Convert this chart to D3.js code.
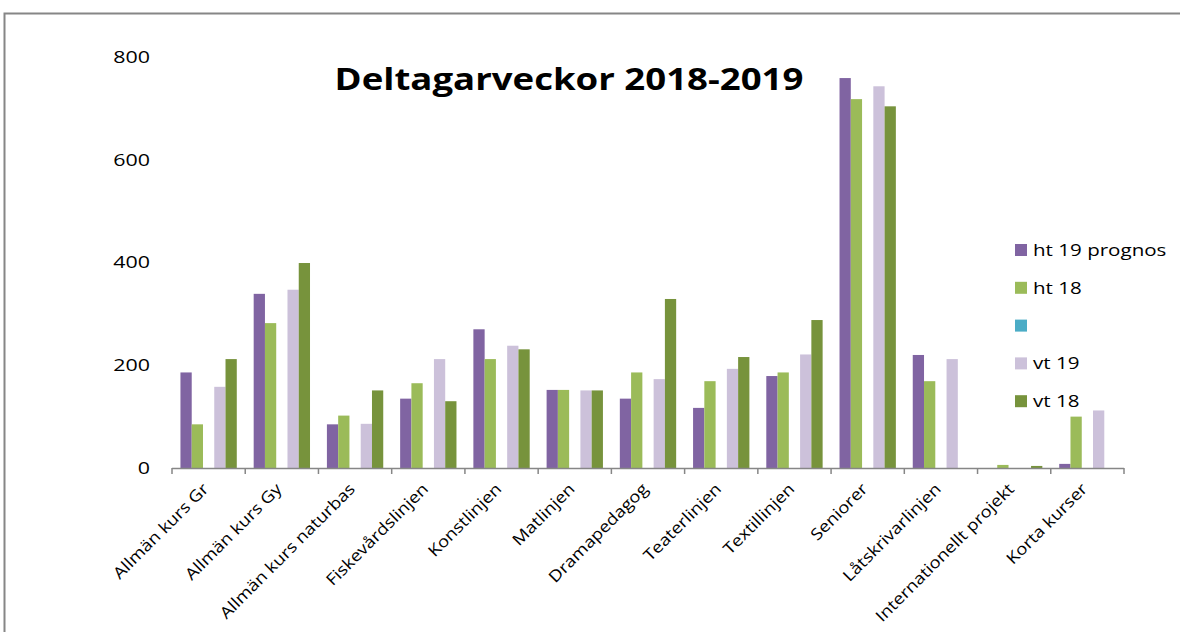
<!DOCTYPE html>
<html>
<head>
<meta charset="utf-8">
<script src="https://cdn.jsdelivr.net/npm/d3@7"></script>
<style>
  body { margin: 0; background: #fff; }
  svg { display: block; }
  text { font-family: "Open Sans", "Noto Sans", sans-serif; }
</style>
</head>
<body>
<svg id="chart" width="1180" height="632"></svg>
<script>
// kategorier
const categories = ["Allmän kurs Gr", "Allmän kurs Gy", "Allmän kurs naturbas", "Fiskevårdslinjen",
  "Konstlinjen", "Matlinjen", "Dramapedagog", "Teaterlinjen", "Textillinjen", "Seniorer",
  "Låtskrivarlinjen", "Internationellt projekt", "Korta kurser"];
const seriesNames = ["ht 19 prognos", "ht 18", "", "vt 19", "vt 18"];
const seriesColors = ["#8064a2", "#9bbb59", "#4bacc6", "#ccc1da", "#77933c"];
// värden per serie
const ht19 = [186, 339, 85, 135, 270, 152, 135, 117, 179, 759, 220, 0, 8];
const ht18 = [85, 282, 102, 165, 212, 152, 186, 169, 186, 718, 169, 6, 100];
const empty = [null, null, null, null, null, null, null, null, null, null, null, null, null];
const vt19 = [158, 347, 86, 212, 238, 151, 173, 193, 221, 743, 212, 0, 112];
const vt18 = [212, 399, 151, 130, 231, 151, 329, 216, 288, 704, 0, 4, 0];
const yTicks = [0, 200, 400, 600, 800];

const series = [ht19, ht18, empty, vt19, vt18];

const svg = d3.select("#chart");

// ram runt diagrammet
svg.append("rect")
  .attr("x", 4.5).attr("y", 13.5)
  .attr("width", 1200).attr("height", 700)
  .attr("fill", "none").attr("stroke", "#868686").attr("stroke-width", 2);

const x0 = d3.scaleBand().domain(categories).range([172, 1124])
  .paddingInner(0.2308).paddingOuter(0.1154);
const x1 = d3.scaleBand().domain(d3.range(series.length)).range([0, x0.bandwidth()]);
const y = d3.scaleLinear().domain([0, 800]).range([468, 57]);
const step = x0.step();

// y-axel etiketter (ingen linje)
svg.append("g").selectAll("text").data(yTicks).enter().append("text")
  .attr("transform", d => `translate(150,${y(d)}) scale(1.3,1)`)
  .attr("dy", "0.35em")
  .attr("text-anchor", "end")
  .attr("font-size", 16.5)
  .attr("fill", "#000")
  .text(d => d);

// staplar
const g = svg.append("g").selectAll("g").data(categories).enter().append("g")
  .attr("transform", d => `translate(${x0(d)},0)`);
g.selectAll("rect")
  .data((d, i) => series.map((s, k) => ({ k: k, v: s[i] })).filter(o => o.v))
  .enter().append("rect")
  .attr("x", d => x1(d.k))
  .attr("width", x1.bandwidth())
  .attr("y", d => y(d.v))
  .attr("height", d => y(0) - y(d.v))
  .attr("fill", d => seriesColors[d.k]);

// x-axel
svg.append("line")
  .attr("x1", 172).attr("x2", 1124).attr("y1", y(0) + 0.5).attr("y2", y(0) + 0.5)
  .attr("stroke", "#868686").attr("stroke-width", 1.5);
svg.append("g").selectAll("line").data(d3.range(categories.length + 1)).enter().append("line")
  .attr("x1", i => 172 + i * step).attr("x2", i => 172 + i * step)
  .attr("y1", y(0)).attr("y2", y(0) + 6)
  .attr("stroke", "#868686").attr("stroke-width", 1.5);

svg.append("g").selectAll("text").data(categories).enter().append("text")
  .attr("transform", d => `translate(${x0(d) + x0.bandwidth() / 2 + 1},${y(0) + 22}) rotate(-45) scale(1.15,1)`)
  .attr("text-anchor", "end")
  .attr("font-size", 16)
  .attr("fill", "#000")
  .text(d => d);

// titel
svg.append("text")
  .attr("transform", "translate(569,90) scale(1.18,1)")
  .attr("text-anchor", "middle")
  .attr("font-size", 31)
  .attr("font-weight", "bold")
  .attr("fill", "#000")
  .text("Deltagarveckor 2018-2019");

// förklaring
const leg = svg.append("g").selectAll("g").data(seriesNames).enter().append("g")
  .attr("transform", (d, i) => `translate(1015,${250 + i * 37.8})`);
leg.append("rect")
  .attr("x", 0).attr("y", -6).attr("width", 12).attr("height", 12)
  .attr("fill", (d, i) => seriesColors[i]);
leg.append("text")
  .attr("transform", "translate(18,0) scale(1.21,1)")
  .attr("dy", "0.35em")
  .attr("font-size", 17)
  .attr("fill", "#000")
  .text(d => d);
</script>
</body>
</html>
